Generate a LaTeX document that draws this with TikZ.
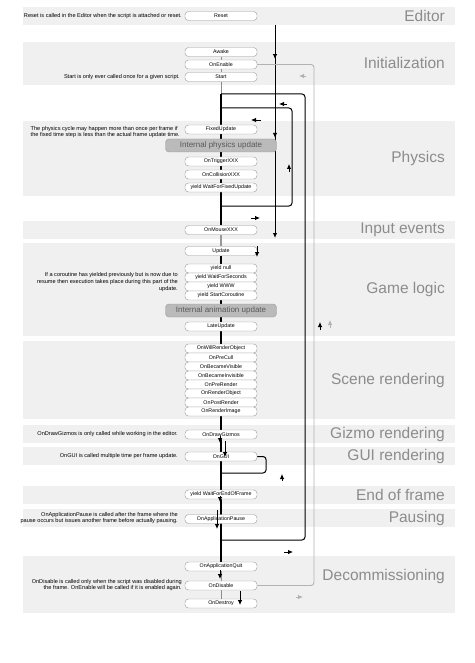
\documentclass[tikz,border=0pt]{standalone}
\usepackage{fontspec}
\setmainfont{Liberation Sans}
\usetikzlibrary{arrows.meta,decorations.markings}
\pgfdeclarelayer{bg}
\pgfsetlayers{bg,main}

\begin{document}
\begin{tikzpicture}[x=1pt,y=-1pt,
        >={Latex[length=5pt,width=4.5pt]},
        band/.style={fill=black!6,draw=none},
        bandtitle/.style={anchor=east,inner sep=0pt,text=black!45,
            font=\fontsize{15.5}{15.5}\selectfont},
        call/.style={draw=black!40,fill=white,rounded corners=3.5pt,
            minimum width=72pt,minimum height=9pt,inner sep=0pt,
            font=\fontsize{5.3}{6}\selectfont},
        internal/.style={call,fill=black!27,minimum width=111pt,
            minimum height=13pt,text=black!65,font=\fontsize{8}{9}\selectfont},
        note/.style={anchor=east,align=right,inner sep=0pt,
            font=\fontsize{5.6}{6.6}\selectfont},
        flow/.style={line width=1pt},
        thinlink/.style={draw=black!45,line width=.7pt},
        back/.style={draw=black!30,line width=.9pt,rounded corners=3pt},
        flowtip/.style={->,line width=.8pt},
        greytip/.style={->,black!30,line width=.8pt}]
        \useasboundingbox (0,0) rectangle (474,663);

        % bands
        \begin{pgfonlayer}{bg}
        \foreach \top/\bot/\ty/\name in {7/25/16/Editor, 42/85/63/Initialization,
                121/196/158/Physics, 221/239/230/Input events, 243/336/289/Game logic,
                341/419/380/Scene rendering, 425/443/434/Gizmo rendering,
                447/465/456/GUI rendering, 486/504/495/End of frame,
                509/527/518/Pausing, 556/613/576/Decommissioning}{
            \fill[band] (23,\top) rectangle (455,\bot);
            \node[bandtitle] at (445,\ty) {\name};
        }
        \end{pgfonlayer}

        % calls
        \foreach \n/\y/\t in {reset/16/Reset, awake/52/Awake, onenable/64.5/OnEnable,
                start/77/Start, fixedupdate/129.5/FixedUpdate,
                ontrigger/161.5/OnTriggerXXX, oncollision/174.5/OnCollisionXXX,
                waitfixed/187.5/yield WaitForFixedUpdate, onmouse/230/OnMouseXXX,
                update/251/Update, yieldnull/268.5/yield null,
                waitseconds/277.5/yield WaitForSeconds, www/286.5/yield WWW,
                startcoroutine/295.5/yield StartCoroutine, lateupdate/326.5/LateUpdate,
                willrender/348.5/OnWillRenderObject, precull/357.5/OnPreCull,
                visible/366.5/OnBecameVisible, invisible/375.5/OnBecameInvisible,
                prerender/384.5/OnPreRender, renderobject/393.5/OnRenderObject,
                postrender/402.5/OnPostRender, renderimage/411.5/OnRenderImage,
                drawgizmos/434.5/OnDrawGizmos, ongui/456.5/OnGUI,
                endofframe/494.5/yield WaitForEndOfFrame, pause/519/OnApplicationPause,
                quit/566.5/OnApplicationQuit, ondisable/585.5/OnDisable,
                ondestroy/603.5/OnDestroy}{
            \node[call] (\n) at (221,\y) {\t};
        }
        \node[internal] (physics) at (221,145.5) {Internal physics update};
        \node[internal] (animation) at (221,310.5) {Internal animation update};

        % notes
        \node[note] (resetnote) at (182,16) {Reset is called in the Editor when the script is attached or reset.};
        \node[note] (startnote) at (180,77) {Start is only ever called once for a given script.};
        \node[note,align=left] (physicsnote) at (180,132) {The physics cycle may happen more than once per frame if\\the fixed time step is less than the actual frame update time.};
        \node[note] (coroutinenote) at (178,282) {If a coroutine has yielded previously but is now due to\\resume then execution takes place during this part of the\\update.};
        \node[note] (gizmonote) at (178,434.5) {OnDrawGizmos is only called while working in the editor.};
        \node[note] (guinote) at (178,456.5) {OnGUI is called multiple time per frame update.};
        \node[note] (pausenote) at (178,518) {OnApplicationPause is called after the frame where the\\pause occurs but issues another frame before actually pausing.};
        \node[note] (disablenote) at (182,585) {OnDisable is called only when the script was disabled during\\the frame. OnEnable will be called if it is enabled again.};

        \coordinate (entry) at (275,25);
        \coordinate (exit) at (275,238);
        \coordinate (outer-nw) at (221,94);
        \coordinate (outer-ne) at (305,94);
        \coordinate (outer-sw) at (221,540);
        \coordinate (inner-nw) at (221,108);
        \coordinate (inner-ne) at (292,108);
        \coordinate (inner-sw) at (221,206);
        \coordinate (guiloop-se) at (266,473);
        \coordinate (guiloop-sw) at (221,473);
        \coordinate (reenable) at (314,585.5);

        \begin{pgfonlayer}{bg}
        % call order
        \foreach \a/\b in {awake/onenable, onenable/start, quit/ondisable, ondisable/ondestroy}{
            \draw[thinlink] (\a) -- (\b);
        }
        \draw[thinlink] (start) -- (outer-nw);
        \draw[flow,line width=1.3pt] (outer-nw) -- (onmouse);
        \draw[thinlink,line width=1.3pt,draw=black!40] (onmouse) -- (update);
        \draw[flow,line width=1.3pt] (update) -- (quit);

        % main frame
        \draw[flow,->,postaction={decorate},decoration={markings,
            mark=at position .16 with {\arrow{>}},
            mark=at position .53 with {\arrow{>}}}] (entry) -- (exit);

        % loops
        \draw[flow,rounded corners=3pt] (outer-sw) -| (outer-ne) -- (outer-nw);
        \draw[flow,rounded corners=3pt] (inner-sw) -| (inner-ne) -- (inner-nw);
        \draw[flow,rounded corners=3pt] (ongui.east) -| (guiloop-se) -- (guiloop-sw);
        \draw[back] (onenable.east) -| (reenable) -- (ondisable.east);
        \end{pgfonlayer}

        % arrow marks
        \foreach \x/\y/\dx/\dy in {287/104/-8/0, 320/330/0/-8, 284/552/9/0,
                261/120/-10/0, 289/172/0/-8, 251/218/9/0, 282/481/0/-7,
                257/246/0/11, 225/441/0/16, 220/436/0/7, 220/496/0/6,
                217/510/0/19, 220/570/0/9, 240/591/0/14}{
            \draw[flowtip] (\x,\y) -- ++(\dx,\dy);
        }
        \foreach \x/\y/\dx/\dy in {306/76/-7/0, 330/328/0/-8, 296/597/7/0}{
            \draw[greytip] (\x,\y) -- ++(\dx,\dy);
        }
\end{tikzpicture}
\end{document}
